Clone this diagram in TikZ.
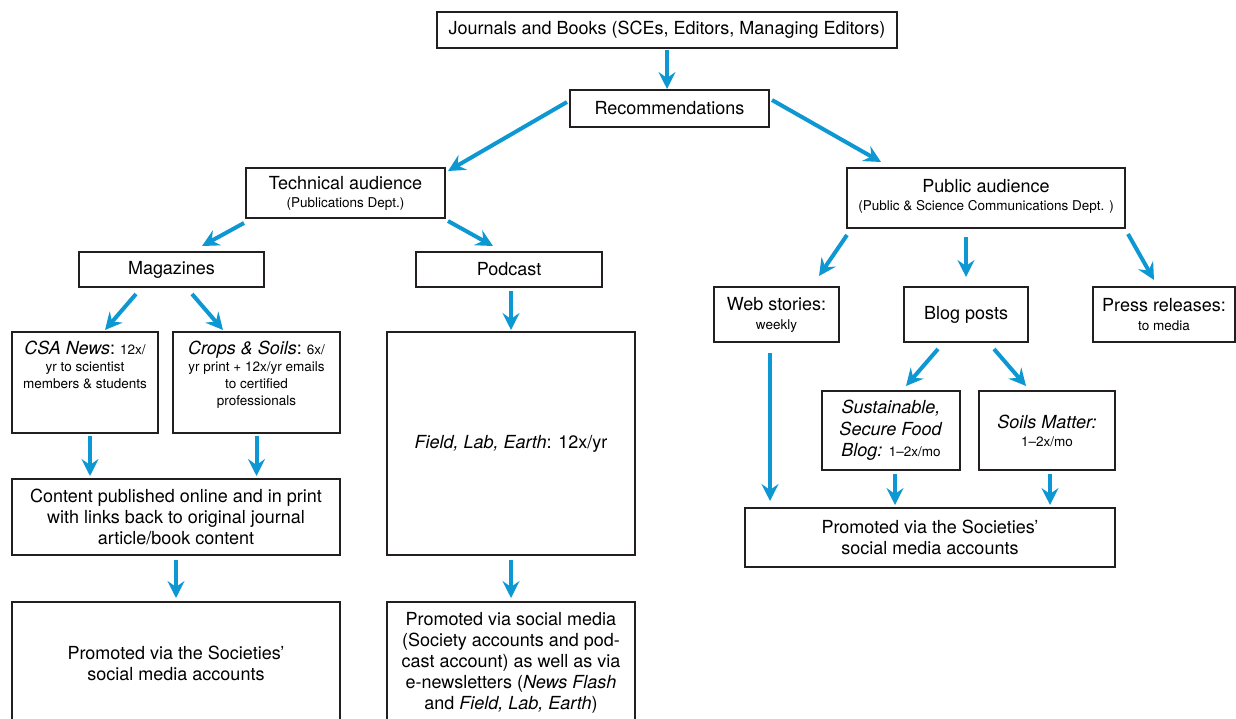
\documentclass[tikz,border=0pt]{standalone}
\usepackage{fontspec}
\setmainfont{TeX Gyre Heros}
\usetikzlibrary{arrows.meta,calc}
\newcommand{\mainsz}{\fontsize{18}{21}\selectfont}
\newcommand{\smallsz}{\fontsize{13.5}{17}\selectfont}
\definecolor{arrblue}{RGB}{13,152,211}
\definecolor{boxline}{RGB}{35,31,32}
\begin{document}
\begin{tikzpicture}[x=1pt,y=-1pt,
  box/.style={draw=boxline, line width=2pt, rectangle, inner sep=0pt, align=center, font=\mainsz, text=black},
  txt/.style={inner sep=0pt, align=center, text=black},
  arr/.style={draw=arrblue, line width=4pt, -{Stealth[length=17pt,width=17pt,inset=6pt]}},
]
\useasboundingbox (0,0) rectangle (1236,719);
\clip (0,0) rectangle (1236,719);

% nodes
\node[box, minimum width=460pt, minimum height=36pt] (jb) at (667,30) {Journals and Books (SCEs, Editors, Managing Editors)};
\node[box, minimum width=199pt, minimum height=37pt] (rec) at (669.5,108.5) {Recommendations};
\node[box, minimum width=199pt, minimum height=50pt] (tech) at (345.5,193) {Technical audience\\[-3pt]{\smallsz (Publications Dept.)}};
\node[box, minimum width=278pt, minimum height=60pt] (pub) at (986,198) {Public audience\\[-3pt]{\smallsz (Public \& Science Communications Dept. )}\\[-14pt]\mbox{}};
\node[box, minimum width=185pt, minimum height=35pt] (mag) at (171.5,269.5) {Magazines};
\node[box, minimum width=186pt, minimum height=35pt] (pod) at (509,269.5) {Podcast};
\node[box, minimum width=125pt, minimum height=55pt] (web) at (776.5,314.5) {Web stories:\\[-2pt]{\smallsz weekly}};
\node[box, minimum width=124pt, minimum height=55pt] (blog) at (966,314.5) {Blog posts};
\node[box, minimum width=142pt, minimum height=55pt] (press) at (1164,314.5) {Press releases:\\[-2pt]{\smallsz to media}};

\node[box, minimum width=146pt, minimum height=101pt] (csa) at (85,382.5) {};
\node[txt, font=\smallsz, anchor=north] (csatxt) at (85,341) {{\mainsz\textit{CSA News}:} 12x/\\yr to scientist\\members \& students};
\node[box, minimum width=167pt, minimum height=101pt] (crops) at (256.5,382.5) {};
\node[txt, font=\smallsz, anchor=north] (cropstxt) at (256.5,341) {{\mainsz\textit{Crops \& Soils}:} 6x/\\yr print + 12x/yr emails\\to certified\\professionals};
\node[box, minimum width=248pt, minimum height=223pt] (field) at (511,443.5) {\textit{Field, Lab, Earth}: 12x/yr};
\node[box, minimum width=328pt, minimum height=76pt] (content) at (176,517) {Content published online and in print\\with links back to original journal\\article/book content};
\node[box, minimum width=328pt, minimum height=122pt] (promL) at (176,663) {Promoted via the Societies’\\social media accounts};
\node[box, minimum width=248pt, minimum height=122pt] (promP) at (511,663) {Promoted via social media\\(Society accounts and pod-\\cast account) as well as via\\e-newsletters (\textit{News Flash}\\and \textit{Field, Lab, Earth})};

\node[box, minimum width=138pt, minimum height=79pt] (sus) at (891,430.5) {\textit{Sustainable,}\\[0.5pt]\textit{Secure Food}\\[0.5pt]\textit{Blog:} {\smallsz 1–2x/mo}};
\node[box, minimum width=136pt, minimum height=79pt] (soils) at (1047,430.5) {\textit{Soils Matter:}\\[-3pt]{\smallsz 1–2x/mo}};
\node[box, minimum width=370pt, minimum height=59pt] (promR) at (930,537.5) {Promoted via the Societies’\\social media accounts};

% connectors
\draw[arr, shorten <=1pt] (jb.south) -- (jb.south |- rec.north);
\draw[arr] ($(rec.west)+(-2,-6.5)$) -- ($(tech.north east)+(2,4)$);
\draw[arr] ($(rec.east)+(2,-8.5)$) -- ($(pub.north west)+(35,-5)$);
\draw[arr] ($(tech.south west)+(-1,4)$) -- ($(mag.north west)+(124,-5)$);
\draw[arr] ($(tech.south east)+(2,2)$) -- ($(pod.north west)+(78,-5)$);
\draw[arr] ($(field.north |- pod.south)+(0,3)$) -- ($(field.north)+(0,-1)$);
\draw[arr] ($(mag.south west)+(58,6)$) -- ($(csa.north west)+(94,-1)$);
\draw[arr] ($(mag.south west)+(114,6)$) -- ($(crops.north west)+(51,-1)$);
\draw[arr] ($(csa.south)+(5,2)$) -- ($(csa.south |- content.north)+(5,-2)$);
\draw[arr] ($(crops.south)+(0,2)$) -- ($(crops.south |- content.north)+(0,-2)$);
\draw[arr] ($(content.south)+(0,4)$) -- ($(promL.north)+(0,-3)$);
\draw[arr] ($(field.south)+(0,4)$) -- ($(promP.north)+(0,-3)$);
\draw[arr] ($(pub.south west)+(1,6)$) -- ($(web.north west)+(106,-10)$);
\draw[arr] ($(blog.north |- pub.south)+(0,8)$) -- ($(blog.north)+(0,-9)$);
\draw[arr] ($(pub.south east)+(2,5)$) -- ($(press.north west)+(62,-6)$);
\draw[arr] ($(blog.south west)+(35,6)$) -- ($(sus.north west)+(85,-4)$);
\draw[arr] ($(blog.south west)+(91,6)$) -- ($(soils.north west)+(48,-4)$);
\draw[arr] ($(web.south)+(-6.5,10)$) -- ($(web.south |- promR.north)+(-6.5,-6)$);
\draw[arr] ($(sus.south)+(4,3)$) -- ($(sus.south |- promR.north)+(4,-2)$);
\draw[arr] ($(soils.south)+(3,3)$) -- ($(soils.south |- promR.north)+(3,-2)$);
\end{tikzpicture}
\end{document}
